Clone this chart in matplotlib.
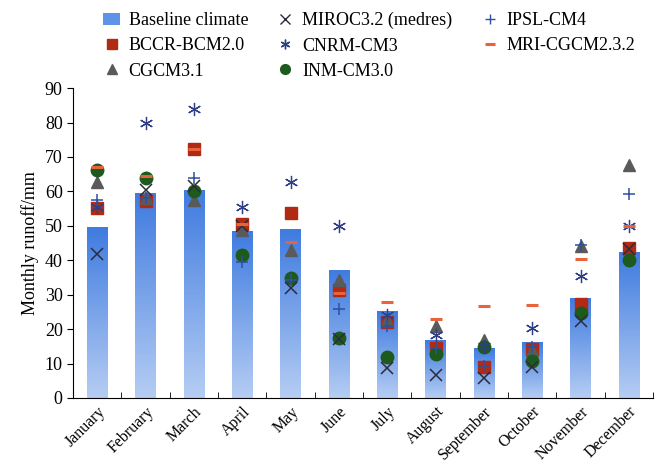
import numpy as np
import matplotlib
matplotlib.use("Agg")
import matplotlib.pyplot as plt
from matplotlib.colors import LinearSegmentedColormap
from matplotlib.patches import Patch

plt.rcParams['font.family'] = ['Liberation Serif', 'DejaVu Serif']

months = ["January", "February", "March", "April", "May", "June", "July",
          "August", "September", "October", "November", "December"]

baseline = [49.5, 59.5, 60.2, 48.5, 48.8, 37.0, 25.2, 16.8, 14.3, 16.0, 28.9, 42.2]

bccr = [55.2, 57.2, 72.3, 50.6, 53.8, 31.5, 22.0, 14.5, 8.9, 14.2, 27.4, 43.5]
cgcm = [62.8, 58.0, 57.6, 48.9, 43.0, 34.4, 22.5, 20.8, 16.9, 14.0, 44.2, 67.6]
inm = [66.3, 63.9, 60.0, 41.4, 34.8, 17.3, 11.8, 12.8, 14.8, 10.6, 24.8, 40.0]
miroc = [41.8, 60.5, 61.7, 49.8, 32.0, 17.0, 8.6, 6.8, 5.8, 9.0, 22.3, 43.3]
cnrm = [55.4, 79.8, 83.8, 55.6, 62.8, 49.8, 24.0, 18.3, 15.2, 20.4, 35.3, 50.0]
ipsl = [57.6, 58.2, 64.0, 39.6, 34.2, 25.8, 21.0, 14.4, 9.2, 14.8, 44.5, 59.2]
mri = [67.2, 64.4, 72.2, 50.4, 45.4, 30.4, 27.9, 23.0, 26.6, 27.1, 40.4, 49.9]

x = np.arange(len(months))
bar_w = 0.42

fig = plt.figure(figsize=(6.59, 4.66), dpi=100)
ax = fig.add_axes([0.111, 0.146, 0.880, 0.665])

# gradient bars
cmap = LinearSegmentedColormap.from_list("bl", ["#b5cdf3", "#3f7be0"])
grad = np.linspace(0, 1, 256).reshape(-1, 1)
for xi, h in zip(x, baseline):
    ax.imshow(grad, extent=[xi - bar_w / 2, xi + bar_w / 2, 0, h], origin='lower',
              aspect='auto', cmap=cmap, zorder=1)

ms = 8.5
ax.plot(x, bccr, ls='none', marker='s', ms=ms, color='#b02a14', zorder=3)
ax.plot(x, cgcm, ls='none', marker='^', ms=ms + 0.5, color='#5a5a5a', zorder=3)
ax.plot(x, inm, ls='none', marker='o', ms=ms + 0.5, color='#1d5a1d', zorder=4)
ax.plot(x, miroc, ls='none', marker='x', ms=ms, mew=1.1, color='#2b2b3a', zorder=5)
ax.plot(x, cnrm, ls='none', marker=(6, 2, 0), ms=ms + 1, mew=0.9, color='#2f3f86', zorder=5)
ax.plot(x, ipsl, ls='none', marker='+', ms=ms, mew=1.1, color='#2f4fa0', zorder=5)
ax.plot(x, mri, ls='none', marker='_', ms=ms, mew=2.2, color='#e8633c', zorder=6)

ax.set_xlim(-0.5, len(months) - 0.5)
ax.set_ylim(0, 90)
ax.set_yticks(np.arange(0, 91, 10))
ax.set_xticks(x)
ax.set_xticklabels(months, rotation=45, ha='right', rotation_mode='anchor', fontsize=11.5)
ax.set_xticks(np.arange(-0.5, len(months), 1), minor=True)
ax.tick_params(axis='x', which='major', length=0, pad=4)
ax.tick_params(axis='x', which='minor', direction='in', length=4)
ax.tick_params(axis='y', direction='out', length=4, labelsize=13)
ax.set_ylabel("Monthly runoff/mm", fontsize=13)

ax.spines['top'].set_visible(False)
ax.spines['right'].set_visible(False)

handles = [
    Patch(facecolor='#5f93e8', label='Baseline climate'),
    plt.Line2D([], [], ls='none', marker='s', ms=7, color='#b02a14', label='BCCR-BCM2.0'),
    plt.Line2D([], [], ls='none', marker='^', ms=7, color='#5a5a5a', label='CGCM3.1'),
    plt.Line2D([], [], ls='none', marker='x', ms=7, color='#2b2b3a', label='MIROC3.2 (medres)'),
    plt.Line2D([], [], ls='none', marker=(6, 2, 0), ms=7, color='#2f3f86', label='CNRM-CM3'),
    plt.Line2D([], [], ls='none', marker='o', ms=7, color='#1d5a1d', label='INM-CM3.0'),
    plt.Line2D([], [], ls='none', marker='+', ms=7, color='#2f4fa0', label='IPSL-CM4'),
    plt.Line2D([], [], ls='none', marker='_', ms=7, mew=2.2, color='#e8633c', label='MRI-CGCM2.3.2'),
]
fig.legend(handles=handles, ncol=3, loc='upper left', bbox_to_anchor=(0.135, 1.005),
           frameon=False, fontsize=13, handlelength=0.9, handletextpad=0.5,
           columnspacing=1.6, labelspacing=0.45, borderpad=0.3)

fig.savefig("out.png", dpi=100)
